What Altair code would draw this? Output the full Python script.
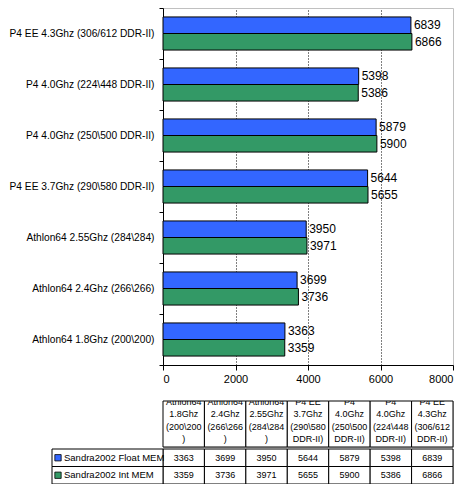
import altair as alt
import pandas as pd

# ---- data ----
categories = [
    "Athlon64 1.8Ghz (200\\200)",
    "Athlon64 2.4Ghz (266\\266)",
    "Athlon64 2.55Ghz (284\\284)",
    "P4 EE 3.7Ghz (290\\580 DDR-II)",
    "P4 4.0Ghz (250\\500 DDR-II)",
    "P4 4.0Ghz (224\\448 DDR-II)",
    "P4 EE 4.3Ghz (306/612 DDR-II)",
]
table_headers = [
    "Athlon64|1.8Ghz|(200\\200|)",
    "Athlon64|2.4Ghz|(266\\266|)",
    "Athlon64|2.55Ghz|(284\\284|)",
    "P4 EE|3.7Ghz|(290\\580|DDR-II)",
    "P4|4.0Ghz|(250\\500|DDR-II)",
    "P4|4.0Ghz|(224\\448|DDR-II)",
    "P4 EE|4.3Ghz|(306/612|DDR-II)",
]
series = ["Sandra2002 Float MEM", "Sandra2002 Int MEM"]
float_mem = [3363, 3699, 3950, 5644, 5879, 5398, 6839]
int_mem = [3359, 3736, 3971, 5655, 5900, 5386, 6866]
colors = ["#3366FF", "#339966"]
x_ticks = [0, 2000, 4000, 6000, 8000]

FONT = "Liberation Sans"
TFONT = "Liberation Sans"

rows = []
for i, c in enumerate(categories):
    rows.append({"category": c, "series": series[0], "value": float_mem[i]})
    rows.append({"category": c, "series": series[1], "value": int_mem[i]})
df = pd.DataFrame(rows)

order_top = list(reversed(categories))

y_enc = alt.Y(
    "category:N",
    sort=order_top,
    scale=alt.Scale(paddingInner=0, paddingOuter=0),
    axis=alt.Axis(
        title=None, tickBand="extent", labelFont=FONT, labelFontSize=10.2,
        labelColor="black", tickColor="black", domainColor="black",
        tickSize=4, labelPadding=5, labelLimit=0,
    ),
)
yoff_enc = alt.YOffset(
    "series:N", sort=series,
    scale=alt.Scale(paddingInner=0, paddingOuter=0.54),
)
x_enc = alt.X(
    "value:Q",
    scale=alt.Scale(domain=[0, 8000], nice=False),
    axis=alt.Axis(
        title=None, values=x_ticks, format="d", labelFont=FONT, labelFontSize=11,
        labelColor="black", tickColor="black", domainColor="black",
        tickSize=5, labelPadding=3, grid=True, gridColor="black",
        gridDash=[1, 2],
        gridOpacity={"condition": {"test": "datum.value == 0 || datum.value == 8000", "value": 0}, "value": 1},
    ),
)
color_enc = alt.Color(
    "series:N", sort=series,
    scale=alt.Scale(domain=series, range=colors), legend=None,
)

base = alt.Chart(df)
bars = base.mark_bar(stroke="black", strokeWidth=1).encode(
    y=y_enc, yOffset=yoff_enc, x=x_enc, color=color_enc
)
labels = base.mark_text(
    align="left", baseline="middle", dx=3, font=FONT, fontSize=12, color="black"
).encode(y=y_enc, yOffset=yoff_enc, x=x_enc, text="value:Q")

top = alt.layer(bars, labels).properties(width=290, height=357)

# ---- table ----
hdr = pd.DataFrame({"col": categories, "label": table_headers})
col_x = alt.X("col:N", sort=categories, axis=None,
              scale=alt.Scale(paddingInner=0, paddingOuter=0))
hbase = alt.Chart(hdr)
h_rect = hbase.mark_rect(fill="white", stroke="black", strokeWidth=1).encode(x=col_x)
h_text = hbase.mark_text(
    lineBreak="|", baseline="top", align="center", font=TFONT, fontSize=9,
    lineHeight=12.3, dy=-3, clip=True, color="black",
).encode(x=col_x, y=alt.value(0), text="label:N")
header = alt.layer(h_rect, h_text).properties(width=290, height=46)

tdf = pd.DataFrame({
    "col": categories * 2,
    "series": [series[0]] * 7 + [series[1]] * 7,
    "value": float_mem + int_mem,
})
row_y = alt.Y("series:N", sort=series, axis=None,
              scale=alt.Scale(paddingInner=0, paddingOuter=0))
tbase = alt.Chart(tdf)
t_rect = tbase.mark_rect(fill="white", stroke="black", strokeWidth=1).encode(x=col_x, y=row_y)
t_text = tbase.mark_text(font=TFONT, fontSize=9, color="black").encode(
    x=col_x, y=row_y, text="value:Q")

leg = pd.DataFrame({"series": series})
lbase = alt.Chart(leg)
l_rect = lbase.mark_rect(fill="white", stroke="black", strokeWidth=1).encode(
    x=alt.value(-111), x2=alt.value(0), y=row_y)
l_sq = lbase.mark_square(size=40, filled=True, stroke="black", strokeWidth=0.8, opacity=1).encode(
    x=alt.value(-105), y=row_y,
    color=alt.Color("series:N", scale=alt.Scale(domain=series, range=colors), legend=None))
l_text = lbase.mark_text(align="left", font=TFONT, fontSize=9.5, color="black").encode(
    x=alt.value(-99), y=row_y, text="series:N")

values = alt.layer(t_rect, t_text, l_rect, l_sq, l_text).properties(width=290, height=35)

table = alt.vconcat(header, values, spacing=0)

chart = alt.vconcat(top, table, spacing=15).properties(
    padding={"left": 0, "top": -6, "right": 0, "bottom": 0}
).configure_view(stroke="#C0C0C0", strokeWidth=1).configure_concat(spacing=0)

chart.save("out.html", embed_options={"renderer": "svg", "actions": False})
